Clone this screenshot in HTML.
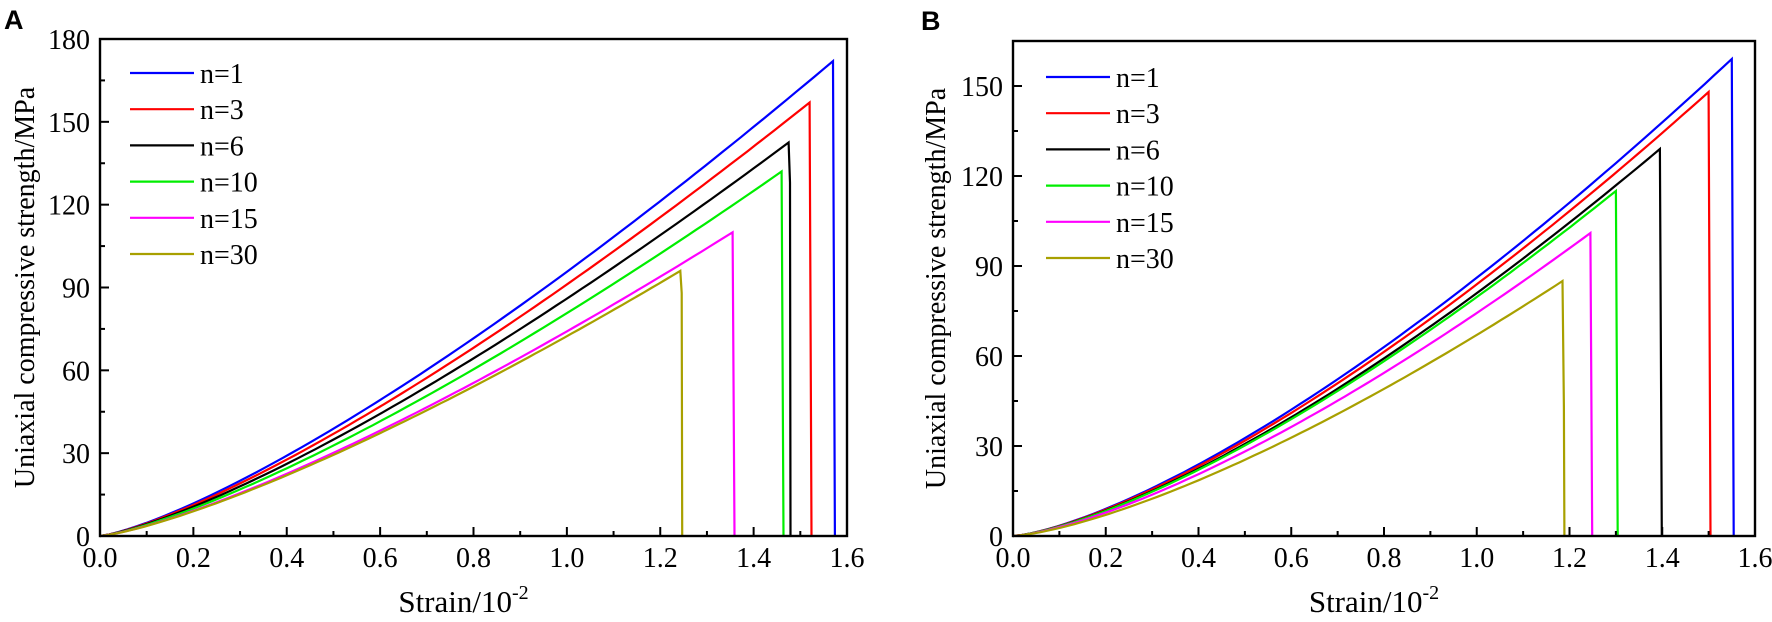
<!DOCTYPE html>
<html><head><meta charset="utf-8"><style>
html,body{margin:0;padding:0;background:#fff;}
svg text{font-family:"Liberation Serif",serif;}
</style></head><body>
<svg id="s" width="1772" height="617" xmlns="http://www.w3.org/2000/svg">
<text x="4" y="29" style="font-family:'Liberation Sans',sans-serif;font-weight:bold;font-size:27px">A</text>
<text x="921" y="30" style="font-family:'Liberation Sans',sans-serif;font-weight:bold;font-size:27px">B</text>
</svg>
<script>
const s=document.getElementById('s');const NS='http://www.w3.org/2000/svg';
function el(t,a,txt){const e=document.createElementNS(NS,t);for(const k in a)e.setAttribute(k,a[k]);if(txt!==undefined)e.textContent=txt;s.appendChild(e);return e;}
function panel(o){
 const {L,R,T,B,ymax,ystep,exp,series,ylab}=o;
 const X=v=>L+(R-L)*v/1.6, Y=v=>B-(B-T)*v/ymax;
 for(const se of series){
  let pts=[];const N=80;
  for(let i=0;i<=N;i++){const t=i/N;pts.push([X(se.xp*t),Y(se.yp*Math.pow(t,exp))]);}
  if(se.mid!==undefined){pts.push([X(se.xp+0.003),Y(se.mid)]);}
  pts.push([X(se.xp+0.004),B]);
  el('polyline',{points:pts.map(p=>p[0].toFixed(1)+','+p[1].toFixed(1)).join(' '),fill:'none',stroke:se.c,'stroke-width':2.2});
 }
 el('rect',{x:L,y:T,width:R-L,height:B-T,fill:'none',stroke:'#000','stroke-width':2.4});
 for(let i=0;i<=16;i++){const x=X(i*0.1);const maj=i%2==0;
  el('line',{x1:x,y1:B,x2:x,y2:B-(maj?9:5),stroke:'#000','stroke-width':2});
  if(maj)el('text',{x:x,y:B+31,'text-anchor':'middle','font-size':'28px'},(i/10).toFixed(1));}
 for(let v=0;v<=ymax+0.01;v+=ystep/2){const y=Y(v);const maj=Math.abs(v/ystep-Math.round(v/ystep))<1e-6;
  el('line',{x1:L,y1:y,x2:L+(maj?9:5),y2:y,stroke:'#000','stroke-width':2});
  if(maj)el('text',{x:L-10,y:y+10,'text-anchor':'end','font-size':'28px'},String(v));}
 const tx=el('text',{x:(L+R)/2-10,y:B+76,'text-anchor':'middle','font-size':'31px'},'Strain/10');
 const sp=document.createElementNS(NS,'tspan');sp.setAttribute('dy','-13');sp.setAttribute('font-size','20px');sp.textContent='-2';tx.appendChild(sp);
 el('text',{x:0,y:0,transform:`translate(${ylab},${(T+B)/2}) rotate(-90)`,'text-anchor':'middle','font-size':'28px'},'Uniaxial compressive strength/MPa');
 series.forEach((se,i)=>{const y=o.ly+i*36.2;
  el('line',{x1:o.lx,y1:y,x2:o.lx+64,y2:y,stroke:se.c,'stroke-width':2.2});
  el('text',{x:o.lx+70,y:y+10,'font-size':'28px'},se.n);});
}
panel({L:100,R:847,T:39,B:536,ymax:180,ystep:30,exp:1.3,ylab:34,lx:130,ly:73,series:[
 {n:'n=1',c:'#0000ff',xp:1.57,yp:172},
 {n:'n=3',c:'#ff0000',xp:1.52,yp:157},
 {n:'n=6',c:'#000000',xp:1.475,yp:142.5,mid:128},
 {n:'n=10',c:'#00ee00',xp:1.46,yp:132},
 {n:'n=15',c:'#ff00ff',xp:1.355,yp:110},
 {n:'n=30',c:'#a8a000',xp:1.243,yp:96,mid:88}]});
panel({L:1013,R:1755,T:41,B:536,ymax:165,ystep:30,exp:1.4,ylab:945,lx:1046,ly:77,series:[
 {n:'n=1',c:'#0000ff',xp:1.55,yp:159},
 {n:'n=3',c:'#ff0000',xp:1.50,yp:148},
 {n:'n=6',c:'#000000',xp:1.395,yp:129},
 {n:'n=10',c:'#00ee00',xp:1.30,yp:115},
 {n:'n=15',c:'#ff00ff',xp:1.245,yp:101},
 {n:'n=30',c:'#a8a000',xp:1.185,yp:85,mid:43}]});
</script>
</body></html>
